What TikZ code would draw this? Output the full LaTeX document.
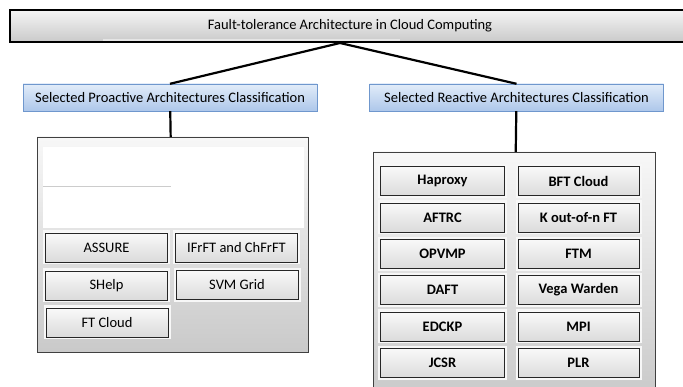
\documentclass[tikz,border=0pt]{standalone}
\usepackage{fontspec}
\setmainfont{Carlito}
\usetikzlibrary{positioning}
\definecolor{clsedge}{HTML}{6F97CD}
\definecolor{clstop}{HTML}{E2ECF9}
\definecolor{clsbot}{HTML}{ADC7EA}

\begin{document}
\begin{tikzpicture}[x=1pt,y=-1pt,
  hdr/.style={draw=black,line width=1.2pt,top color=gray!8,bottom color=gray!42,minimum width=680pt,minimum height=32pt,font=\fontsize{14.5}{16}\selectfont},
  cls/.style={draw=clsedge,top color=clstop,bottom color=clsbot,minimum width=294pt,minimum height=27pt,font=\fontsize{14.5}{16}\selectfont},
  pnl/.style={draw=black!75,top color=gray!6,bottom color=gray!42},
  btn/.style={draw=black!85,line width=0.8pt,top color=gray!5,bottom color=gray!28,minimum width=122pt,minimum height=29pt,
    preaction={draw=gray!6,line width=5pt},font=\fontsize{14.5}{16}\selectfont},
  link/.style={line width=2.2pt}]
  \useasboundingbox (0,0) rectangle (683,387);
  \node[hdr] (top) at (350,26) {Fault-tolerance Architecture in Cloud Computing};
  \draw[white!80!gray,line width=1.5pt] (103,40) -- (400,40);
  \coordinate (apex) at (340,43);
  \node[cls] (pro) at (170,97.5) {Selected Proactive Architectures Classification};
  \node[cls] (rea) at (516.5,97.5) {Selected Reactive Architectures Classification};
  \node[pnl,minimum width=271pt,minimum height=215pt] (propnl) at (172.5,244.5) {};
  \node[pnl,minimum width=282pt,minimum height=245pt] (reapnl) at (514,274.5) {};
  % empty area at the top of the proactive panel
  \fill[white] (43,147) rectangle (304,228);
  \draw[gray!40,line width=1pt] (43,187) -- (171,187);
  % proactive
  \foreach \n/\t/\x/\y in {assure/ASSURE/106.5/247.5, ifrft/IFrFT and ChFrFT/236.5/247.5,
      shelp/SHelp/106.5/285.5, svm/SVM Grid/237/285, ftcloud/FT Cloud/107/322.5}
    \node[btn] (\n) at (\x,\y) {\t};
  % reactive
  \foreach \n/\t/\y in {haproxy/Haproxy/181, aftrc/AFTRC/217.5, opvmp/OPVMP/254,
      daft/DAFT/290, edckp/EDCKP/326.5, jcsr/JCSR/363}
    \node[btn,minimum width=124pt,font=\fontsize{14.5}{16}\selectfont\bfseries] (\n) at (442.5,\y) {\t};
  \foreach \n/\t/\y in {bft/BFT Cloud/181, kout/K out-of-n FT/217.5, ftm/FTM/254,
      vega/Vega Warden/290, mpi/MPI/326.5, plr/PLR/363}
    \node[btn,minimum width=121pt,font=\fontsize{14.5}{16}\selectfont\bfseries] (\n) at (578.5,\y) {\t};
  \draw[link] (apex) -- (pro.north);
  \draw[link] (apex) -- (rea.north);
  \draw[link] (pro) -- (propnl);
  \draw[link] (rea) -- (reapnl);
\end{tikzpicture}
\end{document}
